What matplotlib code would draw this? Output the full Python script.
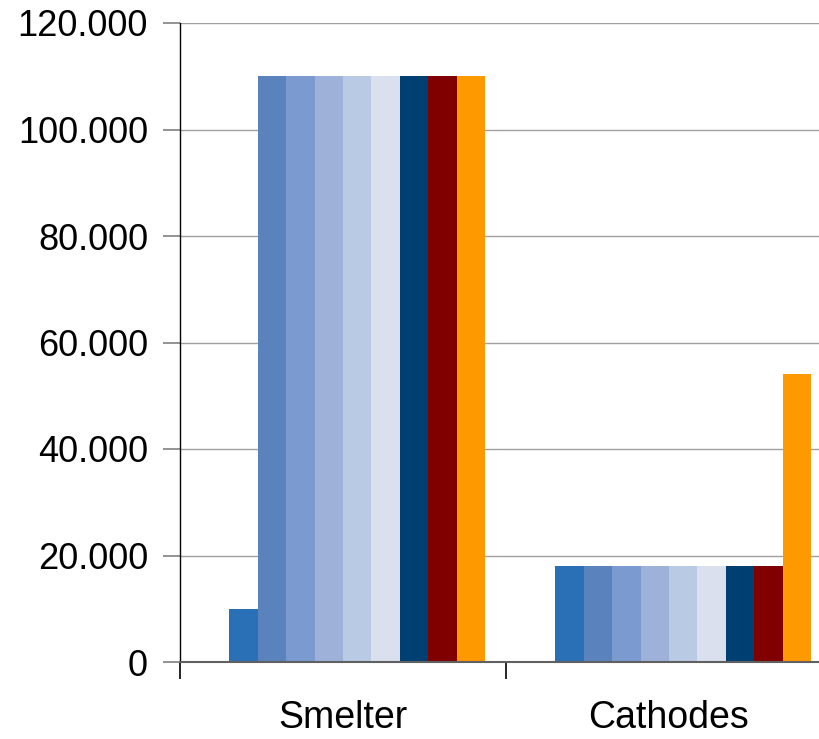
import matplotlib
matplotlib.use("Agg")
import matplotlib.pyplot as plt
from matplotlib.ticker import FuncFormatter, FixedLocator
import numpy as np

plt.rcParams['font.family'] = ['Liberation Sans', 'DejaVu Sans']

categories = ["Smelter", "Cathodes"]
series_values = [
    [0, 0],
    [10000, 18000],
    [110000, 18000],
    [110000, 18000],
    [110000, 18000],
    [110000, 18000],
    [110000, 18000],
    [110000, 18000],
    [110000, 18000],
    [110000, 54000],
]
series_colors = [
    "#ffffff", "#2970b6", "#5a82bd", "#7b9acf", "#9eb1d9",
    "#b9cae4", "#dae0ee", "#003f72", "#800000", "#ff9900",
]
y_ticks = [0, 20000, 40000, 60000, 80000, 100000, 120000]

fig = plt.figure(figsize=(8.19, 7.39), dpi=100)
W, H = 819, 739
ax = fig.add_axes([180 / W, 1 - 662 / H, (832 - 180) / W, (662 - 23) / H])

n = len(series_values)
slot = 0.0871
x = np.arange(len(categories))
for i, (vals, col) in enumerate(zip(series_values, series_colors)):
    ax.bar(x + (i - (n - 1) / 2) * slot, vals, width=slot, color=col,
           linewidth=0, zorder=3)

ax.set_xlim(-0.5, len(categories) - 0.5)
ax.set_ylim(0, 120000)
ax.yaxis.set_major_locator(FixedLocator(y_ticks))
ax.yaxis.set_major_formatter(
    FuncFormatter(lambda v, p: "0" if v == 0 else f"{int(v):,}".replace(",", ".")))
ax.grid(axis="y", color="#a0a0a0", linewidth=1.0, zorder=0)

ax.xaxis.set_major_locator(FixedLocator(np.arange(len(categories) + 1) - 0.5))
ax.xaxis.set_major_formatter(FuncFormatter(lambda v, p: ""))
ax.xaxis.set_minor_locator(FixedLocator(x))
ax.set_xticklabels(categories, minor=True)
ax.tick_params(axis="x", which="minor", length=0, labelsize=27, pad=27)
ax.tick_params(axis="x", which="major", length=12, width=1.2, color="black",
               direction="out")
ax.tick_params(axis="y", length=12, width=1.2, color="#808080", direction="out",
               labelsize=26, pad=11)

for s in ("top", "right"):
    ax.spines[s].set_visible(False)
ax.spines["left"].set_color("black")
ax.spines["left"].set_linewidth(1.0)
ax.spines["bottom"].set_color("#606060")
ax.spines["bottom"].set_linewidth(1.5)
ax.spines["bottom"].set_zorder(4)

fig.savefig("out.png", dpi=100)
